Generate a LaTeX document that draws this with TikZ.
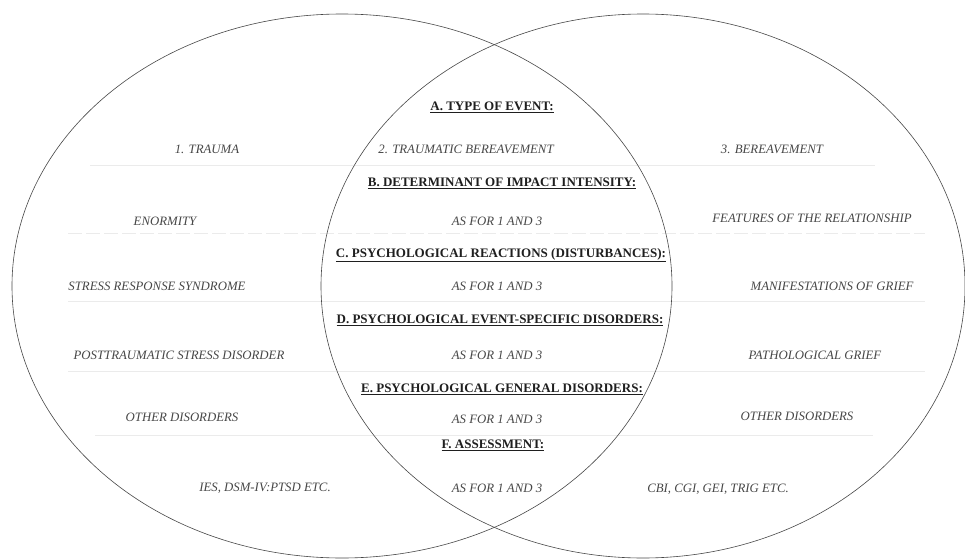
\documentclass[tikz,border=0pt]{standalone}
\usepackage{fontspec}
\setmainfont{Liberation Serif}
\begin{document}
\begin{tikzpicture}[x=1pt,y=-1pt,
  it/.style={font=\fontsize{12.8}{14}\selectfont\itshape, text=black!72, inner sep=0pt, anchor=center},
  hd/.style={font=\fontsize{13}{14}\selectfont\bfseries, text=black!88, inner sep=0pt, anchor=center},
  sepline/.style={draw=black!8, line width=0.8pt},
  venn/.style={draw=black!72, line width=0.6pt}]
\useasboundingbox[fill=white] (0,0) rectangle (965,559);
% faint row separators
\draw[sepline] (90,165) -- (875,165);
\draw[sepline,dash pattern=on 14pt off 4pt] (68,233) -- (925,233);
\draw[sepline] (68,301) -- (925,301);
\draw[sepline] (68,371) -- (925,371);
\draw[sepline] (95,435) -- (873,435);
% Venn ellipses
\draw[venn] (342,286) ellipse [x radius=330pt, y radius=272pt];
\draw[venn] (643,286) ellipse [x radius=322pt, y radius=272pt];
% headings
\node[hd] (hA) at (492,107) {\underline{A. TYPE OF EVENT:}};
\node[hd] (hB) at (502,183) {\underline{B. DETERMINANT OF IMPACT INTENSITY:}};
\node[hd] (hC) at (501,255) {\underline{C. PSYCHOLOGICAL REACTIONS (DISTURBANCES):}};
\node[hd] (hD) at (500,320) {\underline{D. PSYCHOLOGICAL EVENT-SPECIFIC DISORDERS:}};
\node[hd] (hE) at (502,389) {\underline{E. PSYCHOLOGICAL GENERAL DISORDERS:}};
\node[hd] (hF) at (493,445) {\underline{F. ASSESSMENT:}};
% middle column
\node[it] (m1) at (466,149) {2. TRAUMATIC BEREAVEMENT};
\node[it] (m2) at (497,221) {AS FOR 1 AND 3};
\node[it] (m3) at (497,286) {AS FOR 1 AND 3};
\node[it] (m4) at (497,355) {AS FOR 1 AND 3};
\node[it] (m5) at (497,419) {AS FOR 1 AND 3};
\node[it] (m6) at (497,488) {AS FOR 1 AND 3};
% left column
\node[it] (l1) at (207,149) {1. TRAUMA};
\node[it] (l2) at (165,221) {ENORMITY};
\node[it] (l3) at (157,286) {STRESS RESPONSE SYNDROME};
\node[it] (l4) at (179,355) {POSTTRAUMATIC STRESS DISORDER};
\node[it] (l5) at (182,417) {OTHER DISORDERS};
\node[it] (l6) at (265,488) {IES, DSM-IV:PTSD ETC.};
% right column
\node[it] (r1) at (772,149) {3. BEREAVEMENT};
\node[it] (r2) at (812,218) {FEATURES OF THE RELATIONSHIP};
\node[it] (r3) at (832,286) {MANIFESTATIONS OF GRIEF};
\node[it] (r4) at (815,355) {PATHOLOGICAL GRIEF};
\node[it] (r5) at (797,416) {OTHER DISORDERS};
\node[it] (r6) at (718,489) {CBI, CGI, GEI, TRIG ETC.};
\end{tikzpicture}
\end{document}
